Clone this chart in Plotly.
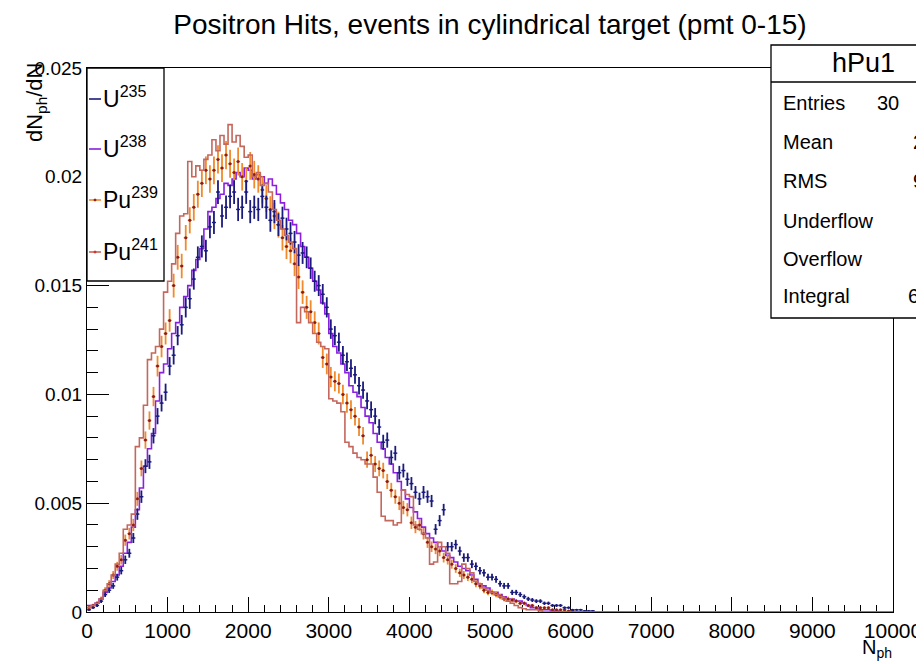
import numpy as np
import plotly.graph_objects as go

# ---------------- data ----------------
BIN_WIDTH = 50
N_BINS = 200          # 0 .. 10000
X_RANGE = [0, 10000]
Y_RANGE = [0, 0.025]

# dN_ph/dN per 50-photon bin, starting at bin [0,50)
u235 = [
    0.0001, 0.0002, 0.0003, 0.0005, 0.0008, 0.0010, 0.0012, 0.0016, 0.0019, 0.0024,
    0.0027, 0.0034, 0.0045, 0.0053, 0.0067, 0.0069, 0.0081, 0.0090, 0.0096, 0.0101,
    0.0113, 0.0118, 0.0127, 0.0132, 0.0140, 0.0144, 0.0153, 0.0163, 0.0168, 0.0166,
    0.0177, 0.0179, 0.0193, 0.0182, 0.0186, 0.0191, 0.0193, 0.0185, 0.0186, 0.0193,
    0.0184, 0.0186, 0.0185, 0.0191, 0.0186, 0.0180, 0.0184, 0.0178, 0.0181, 0.0176,
    0.0174, 0.0170, 0.0164, 0.0165, 0.0163, 0.0158, 0.0152, 0.0150, 0.0146, 0.0140,
    0.0130, 0.0127, 0.0124, 0.0118, 0.0115, 0.0112, 0.0109, 0.0104, 0.0102, 0.0097,
    0.0093, 0.0090, 0.0085, 0.0078, 0.0079, 0.0071, 0.0073, 0.0064, 0.0065, 0.0061,
    0.0059, 0.0055, 0.0052, 0.0055, 0.0053, 0.0051, 0.0038, 0.0042, 0.0047, 0.0030,
    0.0030, 0.0031, 0.0028, 0.0025, 0.0025, 0.0022, 0.0021, 0.0019, 0.0018, 0.0016,
    0.0016, 0.0015, 0.0013, 0.0012, 0.0012, 0.0009, 0.0009, 0.0008, 0.0007, 0.0006,
    0.00055, 0.0005, 0.0005, 0.0004, 0.0004, 0.0003, 0.0003, 0.0003, 0.0002, 0.0002,
    0.0001, 0.0001, 0.0001, 0.00005, 0.00005, 0.00005,
]
u238 = [
    0.0003, 0.0003, 0.0004, 0.0006, 0.0009, 0.0011, 0.0014, 0.0017, 0.0021, 0.0027,
    0.0032, 0.0039, 0.0047, 0.0057, 0.0067, 0.0075, 0.0082, 0.0097, 0.0110, 0.0114,
    0.0121, 0.0128, 0.0133, 0.0140, 0.0145, 0.0150, 0.0157, 0.0162, 0.0167, 0.0176,
    0.0184, 0.0186, 0.0190, 0.0192, 0.0197, 0.0196, 0.0199, 0.0202, 0.0200, 0.0204,
    0.0203, 0.0199, 0.0201, 0.0200, 0.0197, 0.0199, 0.0196, 0.0192, 0.0188, 0.0185,
    0.0180, 0.0178, 0.0174, 0.0168, 0.0163, 0.0158, 0.0152, 0.0148, 0.0142, 0.0137,
    0.0128, 0.0122, 0.0119, 0.0114, 0.0110, 0.0104, 0.0101, 0.0099, 0.0094, 0.0090,
    0.0087, 0.0082, 0.0078, 0.0075, 0.0071, 0.0068, 0.0064, 0.0060, 0.0056, 0.0052,
    0.0048, 0.0046, 0.0043, 0.0039, 0.0036, 0.0034, 0.0032, 0.0030, 0.0028, 0.0026,
    0.0025, 0.0023, 0.0021, 0.0020, 0.0019, 0.0017, 0.0015, 0.0013, 0.0012, 0.0011,
    0.0009, 0.0009, 0.0008, 0.0007, 0.0006, 0.0006, 0.0005, 0.0005, 0.0004, 0.0003,
    0.0002, 0.0002, 0.0001, 0.0001, 0.0001, 0.00005, 0.00005,
]
pu239 = [
    0.0002, 0.0003, 0.0004, 0.0006, 0.0010, 0.0013, 0.0017, 0.0021, 0.0024, 0.0033,
    0.0036, 0.0040, 0.0052, 0.0066, 0.0079, 0.0088, 0.0099, 0.0113, 0.0122, 0.0128,
    0.0134, 0.0150, 0.0163, 0.0159, 0.0172, 0.0180, 0.0186, 0.0192, 0.0197, 0.0203,
    0.0199, 0.0203, 0.0208, 0.0204, 0.0210, 0.0206, 0.0202, 0.0207, 0.0200, 0.0198,
    0.0205, 0.0201, 0.0199, 0.0194, 0.0190, 0.0185, 0.0182, 0.0178, 0.0172, 0.0168,
    0.0166, 0.0160, 0.0154, 0.0147, 0.0140, 0.0138, 0.0133, 0.0128, 0.0117, 0.0114,
    0.0108, 0.0106, 0.0105, 0.0100, 0.0096, 0.0093, 0.0090, 0.0085, 0.0081, 0.0070,
    0.0072, 0.0068, 0.0066, 0.0065, 0.0060, 0.0056, 0.0053, 0.0050, 0.0048, 0.0047,
    0.0041, 0.0039, 0.0040, 0.0036, 0.0032, 0.0030, 0.0029, 0.0028, 0.0025, 0.0024,
    0.0022, 0.0020, 0.0018, 0.0017, 0.0016, 0.0015, 0.0013, 0.0012, 0.0010, 0.0009,
    0.0009, 0.0008, 0.0007, 0.0006, 0.0006, 0.00055, 0.0005, 0.0004, 0.0004, 0.0003,
    0.0003, 0.0002, 0.0002, 0.0002, 0.0002, 0.0001, 0.0001, 0.0001, 0.0001, 0.00005,
    0.00005,
]
pu241 = [
    0.0002, 0.0003, 0.0004, 0.0006, 0.0010, 0.0013, 0.0017, 0.0022, 0.0027, 0.0038,
    0.0040, 0.0045, 0.0076, 0.0080, 0.0095, 0.0116, 0.0119, 0.0122, 0.0130, 0.0147,
    0.0152, 0.0160, 0.0174, 0.0182, 0.0183, 0.0207, 0.0200, 0.0205, 0.0203, 0.0208,
    0.0210, 0.0217, 0.0212, 0.0219, 0.0215, 0.0224, 0.0216, 0.0219, 0.0214, 0.0209,
    0.0210, 0.0200, 0.0202, 0.0196, 0.0197, 0.0193, 0.0185, 0.0180, 0.0176, 0.0173,
    0.0170, 0.0167, 0.0133, 0.0140, 0.0138, 0.0133, 0.0128, 0.0124, 0.0122, 0.0121,
    0.0098, 0.0097, 0.0096, 0.0092, 0.0078, 0.0076, 0.0073, 0.0071, 0.0070, 0.0068,
    0.0068, 0.0062, 0.0055, 0.0044, 0.0042, 0.0042, 0.0040, 0.0041, 0.0056, 0.0054,
    0.0053, 0.0040, 0.0038, 0.0036, 0.0034, 0.0022, 0.0023, 0.0032, 0.0030, 0.0027,
    0.0013, 0.0013, 0.0014, 0.0022, 0.0020, 0.0018, 0.0014, 0.0013, 0.0011, 0.0010,
    0.0009, 0.0008, 0.0007, 0.0006, 0.0005, 0.0004, 0.0003, 0.0002, 0.00015, 0.0001,
    0.0001, 0.0001, 0.00005,
]

# effective statistics used for the Poisson error bars of the points
U235_ENTRIES = 65000
PU239_ENTRIES = 50000

legend_labels = ["U<sup>235</sup>", "U<sup>238</sup>", "Pu<sup>239</sup>", "Pu<sup>241</sup>"]
stats_title = "hPu1"
stats_names = ["Entries", "Mean", "RMS", "Underflow", "Overflow", "Integral"]
stats_values = ["30", "2", "9", "", "", "6"]

x_tick_vals = list(range(0, 10001, 1000))
y_tick_vals = [0, 0.005, 0.01, 0.015, 0.02, 0.025]
y_tick_text = ["0", "0.005", "0.01", "0.015", "0.02", "0.025"]

# ---------------- styling ----------------
C_U235 = "#1b1b7e"
C_U238 = "#8a1fe0"
C_PU239 = "#f08a2c"
C_PU239_DOT = "#8b1c1c"
C_PU241 = "#c4675c"
FONT = "Liberation Sans, Arial, Helvetica, sans-serif"

# the page body has an 8px margin: draw a 916x656 figure
OFF = 8
W, H = 924 - OFF, 664 - OFF
L, R, T, B = 87 - OFF, 893 - OFF, 68 - OFF, 612 - OFF  # plot area in figure pixels


def px(xp):
    """screen x (reference pixels) -> paper x"""
    return (xp - OFF - L) / (R - L)


def py(yp):
    """screen y (reference pixels) -> paper y"""
    return (B - (yp - OFF)) / (B - T)


edges = np.arange(N_BINS + 1) * BIN_WIDTH
centers = edges[:-1] + BIN_WIDTH / 2


def padded(v):
    return np.array(list(v) + [0.0] * (N_BINS - len(v)))


def step_trace(vals, color, name):
    v = padded(vals)
    return go.Scatter(
        x=edges, y=np.append(v, v[-1]), mode="lines", line_shape="hv",
        line=dict(color=color, width=1.6), name=name, showlegend=False,
        hoverinfo="skip",
    )


def error_trace(vals, entries, color, name, dot_color=None, dot_size=2):
    v = padded(vals)
    m = v > 0
    return go.Scatter(
        x=centers[m], y=v[m], mode="markers", name=name, showlegend=False,
        marker=dict(color=dot_color or color, size=dot_size),
        error_y=dict(type="data", array=np.sqrt(v[m] / entries), color=color,
                     thickness=1.8, width=0),
        error_x=dict(type="constant", value=BIN_WIDTH / 2, color=color,
                     thickness=1.4, width=0),
        hoverinfo="skip",
    )


fig = go.Figure()
fig.add_trace(step_trace(u238, C_U238, "U238"))
fig.add_trace(error_trace(pu239, PU239_ENTRIES, C_PU239, "Pu239", C_PU239_DOT, 3))
fig.add_trace(error_trace(u235, U235_ENTRIES, C_U235, "U235", C_U235, 2))
fig.add_trace(step_trace(pu241, C_PU241, "Pu241"))

axis_common = dict(
    showgrid=False, zeroline=False, showline=True, linecolor="black",
    linewidth=1.2, mirror=True, ticks="inside", tickcolor="black",
    tickwidth=1.2, layer="below traces",
)

fig.update_layout(
    width=W, height=H,
    margin=dict(l=L, r=W - R, t=T, b=H - B, autoexpand=False),
    paper_bgcolor="white", plot_bgcolor="white",
    title=dict(text="Positron Hits, events in cylindrical target (pmt 0-15)",
               x=0.5, xref="paper", xanchor="center",
               y=1 - (24 - OFF) / H, yref="container", yanchor="middle",
               font=dict(family=FONT, size=28, color="black")),
    xaxis=dict(range=X_RANGE, tickvals=x_tick_vals, tickformat="d", ticklen=15,
               tickfont=dict(family=FONT, size=21, color="black"),
               minor=dict(dtick=200, ticklen=7, ticks="inside",
                          tickcolor="black", tickwidth=1.2),
               **axis_common),
    yaxis=dict(range=Y_RANGE, tickvals=y_tick_vals, ticktext=y_tick_text,
               ticklen=22,
               tickfont=dict(family=FONT, size=19, color="black"),
               minor=dict(dtick=0.001, ticklen=11, ticks="inside",
                          tickcolor="black", tickwidth=1.2),
               **axis_common),
    showlegend=False,
)

shapes = []
annotations = []

# ---- legend box ----
shapes.append(dict(type="rect", xref="paper", yref="paper",
                   x0=px(87), x1=px(164), y0=py(281), y1=py(68),
                   line=dict(color="black", width=1.3), fillcolor="white"))
legend_rows = [97, 147, 198, 250]
legend_colors = [C_U235, C_U238, C_PU239, C_PU241]
legend_dots = [None, None, C_PU239_DOT, "#d0302a"]
for lab, yrow, col, dot in zip(legend_labels, legend_rows, legend_colors, legend_dots):
    shapes.append(dict(type="line", xref="paper", yref="paper",
                       x0=px(89), x1=px(101), y0=py(yrow + 2), y1=py(yrow + 2),
                       line=dict(color=col, width=1.6)))
    if dot:
        shapes.append(dict(type="circle", xref="paper", yref="paper",
                           x0=px(94), x1=px(96), y0=py(yrow + 3), y1=py(yrow + 1),
                           line=dict(color=dot, width=1), fillcolor=dot))
    annotations.append(dict(text=lab, xref="paper", yref="paper",
                            x=px(101), y=py(yrow), xanchor="left", yanchor="middle",
                            showarrow=False,
                            font=dict(family=FONT, size=23, color="black")))

# ---- statistics box ----
shapes.append(dict(type="rect", xref="paper", yref="paper",
                   x0=px(771), x1=px(940), y0=py(318), y1=py(45),
                   line=dict(color="black", width=1.3), fillcolor="white"))
shapes.append(dict(type="line", xref="paper", yref="paper",
                   x0=px(771), x1=px(940), y0=py(82), y1=py(82),
                   line=dict(color="black", width=1.3)))
annotations.append(dict(text=stats_title, xref="paper", yref="paper",
                        x=px(863), y=py(63), xanchor="center", yanchor="middle",
                        showarrow=False,
                        font=dict(family=FONT, size=27, color="black")))
stat_rows = [103, 142, 181, 221, 259, 296]
value_x = [875, 911, 911, 911, 911, 906]
for name, val, yrow, vx in zip(stats_names, stats_values, stat_rows, value_x):
    annotations.append(dict(text=name, xref="paper", yref="paper",
                            x=px(781), y=py(yrow), xanchor="left", yanchor="middle",
                            showarrow=False,
                            font=dict(family=FONT, size=20, color="black")))
    if val:
        annotations.append(dict(text=val, xref="paper", yref="paper",
                                x=px(vx), y=py(yrow), xanchor="left", yanchor="middle",
                                showarrow=False,
                                font=dict(family=FONT, size=20, color="black")))

# ---- axis titles ----
annotations.append(dict(text="dN<sub>ph</sub>/dN", xref="paper", yref="paper",
                        x=px(36), y=py(60), xanchor="center", yanchor="top",
                        textangle=-90, showarrow=False,
                        font=dict(family=FONT, size=22, color="black")))
annotations.append(dict(text="N<sub>ph</sub>", xref="paper", yref="paper",
                        x=px(894), y=py(634), xanchor="right", yanchor="top",
                        showarrow=False,
                        font=dict(family=FONT, size=20, color="black")))

fig.update_layout(shapes=shapes, annotations=annotations)
fig.write_html("out.html")
